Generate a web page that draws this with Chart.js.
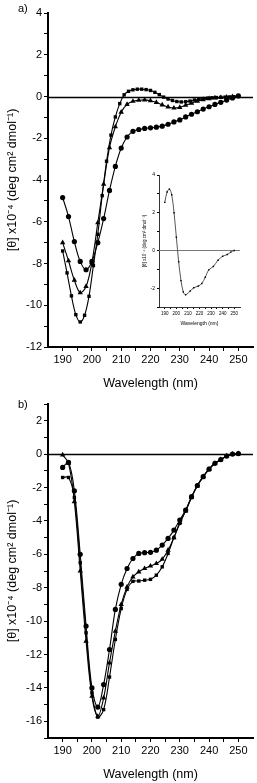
<!DOCTYPE html>
<html>
<head>
<meta charset="utf-8">
<script src="https://cdn.jsdelivr.net/npm/chart.js@4.4.1/dist/chart.umd.min.js"></script>
<style>
  html, body { margin: 0; padding: 0; background: #fff; }
  #wrap { position: relative; width: 257px; height: 783px; overflow: hidden;
    font-family: "Liberation Sans", Arial, sans-serif; }
  canvas { position: absolute; left: 0; }
  .tag { position: absolute; font-size: 11px; color: #000; line-height: 12px; }
</style>
</head>
<body>
<div id="wrap">
  <canvas id="chA" width="257" height="392" style="top:0"></canvas>
  <canvas id="chIn" width="112" height="162" style="left:136px;top:166px"></canvas>
  <canvas id="chB" width="257" height="392" style="top:391px"></canvas>
  <div class="tag" style="left:18px;top:2px">a)</div>
  <div class="tag" style="left:18px;top:398px">b)</div>
</div>
<script>
// longitudes de onda (nm), cada 2 nm; la serie de cuadrados en a) va cada 1.5 nm
const WL = [190, 192, 194, 196, 198, 200, 202, 204, 206, 208, 210, 212, 214, 216, 218, 220,
  222, 224, 226, 228, 230, 232, 234, 236, 238, 240, 242, 244, 246, 248, 250];
const WL_SQ = [190, 191.5, 193, 194.5, 196, 197.5, 199, 200.5, 202, 203.5, 205, 206.5, 208,
  209.5, 211, 212.5, 214, 215.5, 217, 218.5, 220, 221.5, 223, 224.5, 226, 227.5, 229, 230.5,
  232, 233.5, 235, 236.5, 238, 239.5, 241, 242.5, 244, 245.5, 247, 248.5, 250];

// panel a)
const A_CIRC = [-4.84, -5.75, -6.95, -7.9, -8.3, -7.9, -7.0, -5.85, -4.5, -3.35, -2.47, -1.94,
  -1.67, -1.58, -1.53, -1.5, -1.47, -1.42, -1.33, -1.22, -1.12, -0.98, -0.85, -0.73, -0.6,
  -0.49, -0.38, -0.28, -0.17, -0.07, 0.03];
const A_TRI = [-7.0, -7.87, -8.8, -9.4, -9.1, -7.95, -6.05, -4.2, -2.45, -1.45, -0.75, -0.38,
  -0.23, -0.18, -0.16, -0.2, -0.28, -0.4, -0.5, -0.55, -0.52, -0.42, -0.32, -0.22, -0.15,
  -0.1, -0.07, -0.05, -0.03, -0.01, 0.0];
const A_SQ = [-7.4, -8.45, -9.55, -10.45, -10.8, -10.48, -9.57, -8.1, -6.6, -4.75, -3.1, -1.85,
  -0.98, -0.34, 0.08, 0.25, 0.32, 0.35, 0.35, 0.33, 0.29, 0.2, 0.09, -0.03, -0.12, -0.19,
  -0.24, -0.26, -0.25, -0.22, -0.17, -0.13, -0.1, -0.08, -0.06, -0.05, -0.04, -0.03, -0.02,
  -0.01, 0.0];

// panel b)
const B_CIRC = [-0.8, -0.5, -2.2, -6.0, -10.3, -14.0, -15.15, -13.8, -11.7, -9.3, -7.8, -6.85,
  -6.25, -5.95, -5.9, -5.88, -5.75, -5.45, -5.05, -4.55, -3.95, -3.35, -2.55, -1.88, -1.35,
  -0.9, -0.55, -0.33, -0.12, 0.0, 0.03];
const B_TRI = [-0.05, -0.55, -2.85, -7.0, -11.2, -14.5, -15.7, -14.6, -12.5, -10.6, -9.0, -7.95,
  -7.35, -7.05, -6.85, -6.7, -6.55, -6.3, -5.75, -5.0, -4.1, -3.4, -2.6, -1.9, -1.35, -0.9,
  -0.55, -0.33, -0.12, 0.0, 0.03];
const B_SQ = [-1.4, -1.4, -2.6, -6.5, -10.7, -14.3, -15.75, -15.3, -13.35, -11.1, -9.25, -8.1,
  -7.62, -7.6, -7.55, -7.5, -7.25, -6.75, -5.95, -5.0, -4.15, -3.4, -2.6, -1.9, -1.35, -0.9,
  -0.55, -0.33, -0.12, 0.0, 0.03];

// inserto de a)
const IN_WL = [190, 192, 194, 196, 198, 200, 202, 204, 206, 208, 212, 215, 219, 222, 225, 228,
  232, 236, 240, 244, 247, 250];
const IN_Y = [2.55, 3.1, 3.25, 2.95, 2.0, 0.7, -0.6, -1.6, -2.2, -2.35, -2.15, -1.98, -1.89,
  -1.75, -1.42, -1.03, -0.85, -0.52, -0.31, -0.22, -0.09, 0.0];

// ticks
const X_TICKS = [190, 195, 200, 205, 210, 215, 220, 225, 230, 235, 240, 245, 250];
const A_YTICKS = [-12, -11, -10, -9, -8, -7, -6, -5, -4, -3, -2, -1, 0, 1, 2, 3, 4];
const B_YTICKS = [-17, -16, -15, -14, -13, -12, -11, -10, -9, -8, -7, -6, -5, -4, -3, -2, -1,
  0, 1, 2, 3];
const IN_YTICKS = [-3, -2, -1, 0, 1, 2, 3, 4];

const Y_TITLE = "[θ] x10⁻⁴ (deg cm² dmol⁻¹)";
const X_TITLE = "Wavelength (nm)";
const FAM = '"Liberation Sans", Arial, sans-serif';

const lab10 = (v) => (v % 10 === 0 ? v : "");
const lab2 = (v) => (v % 2 === 0 ? v : "");

// línea horizontal en cero
const zeroLine = {
  id: "zeroLine",
  beforeDatasetsDraw(chart, args, opts) {
    const { ctx, chartArea: a, scales: { y } } = chart;
    const py = Math.round(y.getPixelForValue(0)) + 0.5;
    ctx.save();
    ctx.strokeStyle = opts.color;
    ctx.lineWidth = opts.width;
    ctx.beginPath();
    ctx.moveTo(a.left, py);
    ctx.lineTo(a.right + (opts.extend || 0), py);
    ctx.stroke();
    ctx.restore();
  },
};

function axis(ticks, labelFn, fontSize, tickLen, border) {
  return {
    type: "linear",
    afterBuildTicks: (ax) => { ax.ticks = ticks.map((v) => ({ value: v })); },
    border: { color: "#000", width: border },
    grid: { drawOnChartArea: false, drawTicks: true, tickLength: tickLen, tickColor: "#000", tickWidth: 1 },
    ticks: { color: "#000", font: { family: FAM, size: fontSize }, padding: 2,
      callback: labelFn, maxRotation: 0, autoSkip: false },
  };
}

function series(xs, ys, style, r, lineColor, lw) {
  return {
    data: xs.map((x, i) => ({ x, y: ys[i] })),
    borderColor: lineColor, borderWidth: lw, tension: 0.35,
    pointStyle: style, pointRadius: r, pointBackgroundColor: "#000",
    pointBorderColor: "#000", pointBorderWidth: 0, fill: false,
  };
}

function mainChart(id, yMin, yMax, yTicks, sets) {
  return new Chart(document.getElementById(id), {
    type: "line",
    data: { datasets: sets },
    options: {
      responsive: false, animation: false, devicePixelRatio: 1,
      layout: { padding: { top: 13, right: 1, left: 0, bottom: 0 } },
      plugins: { legend: { display: false }, tooltip: { enabled: false },
        zeroLine: { color: "#000", width: 1.6 } },
      scales: {
        x: Object.assign(axis(X_TICKS, lab10, 11, 4, 2), {
          min: 185, max: 255,
          title: { display: true, text: X_TITLE, color: "#000",
            font: { family: FAM, size: 12.5 }, padding: { top: 0, bottom: 1 } },
          afterFit: (ax) => { ax.height = 45; ax.paddingLeft = 0; ax.paddingRight = 0; },
        }),
        y: Object.assign(axis(yTicks, lab2, 11, 4, 2), {
          min: yMin, max: yMax,
          title: { display: true, text: Y_TITLE, color: "#000",
            font: { family: FAM, size: 12.5 }, padding: { top: 5, bottom: 0 } },
          afterFit: (ax) => { ax.width = 48; ax.paddingTop = 0; ax.paddingBottom = 0; },
        }),
      },
    },
    plugins: [zeroLine],
  });
}

mainChart("chA", -12, 4, A_YTICKS, [
  series(WL, A_CIRC, "circle", 2.6, "#000", 1.1),
  series(WL, A_TRI, "triangle", 3.1, "#000", 1.1),
  series(WL_SQ, A_SQ, "rect", 2.4, "#000", 1.1),
]);

mainChart("chB", -17, 3, B_YTICKS, [
  series(WL, B_CIRC, "circle", 2.6, "#000", 1.1),
  series(WL, B_TRI, "triangle", 3.1, "#000", 1.1),
  series(WL, B_SQ, "rect", 2.4, "#000", 1.1),
]);

// inserto
new Chart(document.getElementById("chIn"), {
  type: "line",
  data: { datasets: [series(IN_WL, IN_Y, "rect", 1, "#444", 0.9)] },
  options: {
    responsive: false, animation: false, devicePixelRatio: 1,
    layout: { padding: { top: 9, right: 8, left: 0, bottom: 0 } },
    plugins: { legend: { display: false }, tooltip: { enabled: false },
      zeroLine: { color: "#777", width: 1 } },
    scales: {
      x: Object.assign(axis(X_TICKS, lab10, 4.5, 2, 0.8), {
        min: 185, max: 255,
        title: { display: true, text: X_TITLE, color: "#000",
          font: { family: FAM, size: 5 }, padding: { top: 0, bottom: 1 } },
        afterFit: (ax) => { ax.height = 21; ax.paddingLeft = 0; ax.paddingRight = 0; },
      }),
      y: Object.assign(axis(IN_YTICKS, lab2, 5, 2, 0.8), {
        min: -3, max: 4,
        title: { display: true, text: Y_TITLE, color: "#000",
          font: { family: FAM, size: 4.5 }, padding: { top: 6, bottom: 0 } },
        afterFit: (ax) => { ax.width = 23; ax.paddingTop = 0; ax.paddingBottom = 0; },
      }),
    },
  },
  plugins: [zeroLine],
});
</script>
</body>
</html>
